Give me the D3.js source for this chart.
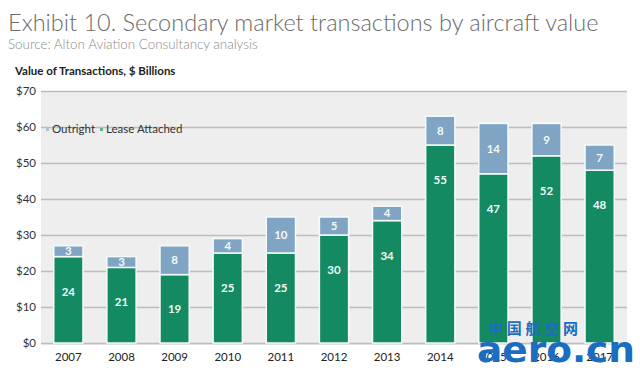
<!DOCTYPE html>
<html>
<head>
<meta charset="utf-8">
<script src="https://cdn.jsdelivr.net/npm/d3@7"></script>
<style>
  body { margin: 0; background: #fff; }
  svg { display: block; font-family: Lato, "Open Sans", sans-serif; }
</style>
</head>
<body>
<svg id="chart" width="640" height="370"></svg>
<script>
// Data
const years = ["2007", "2008", "2009", "2010", "2011", "2012", "2013", "2014", "2015", "2016", "2017"];
const leaseAttached = [24, 21, 19, 25, 25, 30, 34, 55, 47, 52, 48];
const outright = [3, 3, 8, 4, 10, 5, 4, 8, 14, 9, 7];
const yTicks = [0, 10, 20, 30, 40, 50, 60, 70];

// Layout
const width = 640;
const height = 370;
const margin = {top: 91, right: 13, bottom: 27, left: 41};
const greenColor = "#148a62";
const blueColor = "#80a4c4";

const svg = d3.select("#chart");

// Titles
svg.append("text")
    .attr("x", 8).attr("y", 31)
    .attr("font-size", 23.5).attr("font-weight", 300)
    .attr("fill", "#6b6b6b")
    .text("Exhibit 10. Secondary market transactions by aircraft value");
svg.append("text")
    .attr("x", 8).attr("y", 49)
    .attr("font-size", 13.4).attr("font-weight", 300)
    .attr("fill", "#8a8a8a")
    .text("Source: Alton Aviation Consultancy analysis");
svg.append("text")
    .attr("x", 15).attr("y", 75)
    .attr("font-size", 11.5).attr("font-weight", 700)
    .attr("fill", "#222")
    .text("Value of Transactions, $ Billions");

const xScale = d3.scaleBand()
    .domain(years)
    .range([margin.left, width - margin.right])
    .paddingInner(0.45)
    .paddingOuter(0.24);
const yScale = d3.scaleLinear()
    .domain([0, 70])
    .range([height - margin.bottom, margin.top]);

// Plot background
svg.append("rect")
    .attr("x", margin.left).attr("y", margin.top)
    .attr("width", width - margin.right - margin.left)
    .attr("height", yScale(0) - margin.top + 2)
    .attr("fill", "#efeeee");

// Grid + y labels
const yAxis = svg.append("g")
    .attr("transform", `translate(${margin.left},0)`)
    .call(d3.axisLeft(yScale)
        .tickValues(yTicks)
        .tickSize(-(width - margin.right - margin.left))
        .tickPadding(5)
        .tickFormat(d => "$" + d));
yAxis.select(".domain").remove();
yAxis.selectAll(".tick line").attr("stroke", "#bdbdbd").attr("stroke-width", 1.5);
yAxis.selectAll(".tick text")
    .attr("font-size", 11.5).attr("fill", "#333")
    .attr("font-family", "Lato, sans-serif");

// Stacks
const rows = years.map((y, i) => ({year: y, lease: leaseAttached[i], outright: outright[i]}));
const series = d3.stack().keys(["lease", "outright"])(rows);
const colors = {lease: greenColor, outright: blueColor};

const groups = svg.append("g").selectAll("g")
    .data(series)
    .join("g")
    .attr("fill", d => colors[d.key]);

groups.selectAll("rect")
    .data(d => d)
    .join("rect")
    .attr("x", d => xScale(d.data.year))
    .attr("y", d => yScale(d[1]))
    .attr("width", xScale.bandwidth())
    .attr("height", d => yScale(d[0]) - yScale(d[1]))
    .attr("stroke", "#f4fbf8")
    .attr("stroke-width", 1.5);

// Value labels: centred, but tall green segments keep the label near the top
const labelY = function(d, key) {
    const mid = (yScale(d[0]) + yScale(d[1])) / 2;
    if (key === "lease") {
        return Math.min(mid, yScale(d[1]) + 35) + 4;
    }
    return mid + 4;
}
groups.each(function(s) {
    d3.select(this).selectAll("text")
        .data(s)
        .join("text")
        .attr("x", d => xScale(d.data.year) + xScale.bandwidth() / 2)
        .attr("y", d => labelY(d, s.key))
        .attr("text-anchor", "middle")
        .attr("font-size", 11.5)
        .attr("font-weight", 700)
        .attr("fill", "#f2fbf7")
        .text(d => d.data[s.key]);
});

// X labels
const xAxis = svg.append("g")
    .attr("transform", `translate(0,${yScale(0)})`)
    .call(d3.axisBottom(xScale).tickSize(0).tickPadding(10));
xAxis.select(".domain").remove();
xAxis.selectAll(".tick text")
    .attr("font-size", 11.5).attr("fill", "#222")
    .attr("font-family", "Lato, sans-serif");

// Legend
const legendItems = [
    {label: "Outright", color: "#a9c3d9"},
    {label: "Lease Attached", color: "#5cb38f"}
];
const legend = svg.append("g").attr("transform", "translate(46,133)");
let lx = 0;
legendItems.forEach(item => {
    legend.append("rect")
        .attr("x", lx).attr("y", -5)
        .attr("width", 3).attr("height", 3)
        .attr("fill", item.color);
    const t = legend.append("text")
        .attr("x", lx + 6).attr("y", 0)
        .attr("font-size", 11.5).attr("fill", "#333")
        .text(item.label);
    lx += t.node().getComputedTextLength() + 11;
});

// Watermark
svg.append("text")
    .attr("x", 488).attr("y", 334)
    .attr("font-size", 15).attr("font-weight", 700)
    .attr("textLength", 90)
    .attr("font-family", "'Noto Sans CJK SC', sans-serif")
    .attr("fill", "#1b6dc1")
    .text("中国航空网");
svg.append("text")
    .attr("x", 477).attr("y", 362)
    .attr("font-size", 36).attr("font-weight", 900)
    .attr("textLength", 158)
    .attr("lengthAdjust", "spacingAndGlyphs")
    .attr("font-family", "'DejaVu Sans', sans-serif")
    .attr("fill", "#1b6dc1")
    .text("aero.cn");
</script>
</body>
</html>
